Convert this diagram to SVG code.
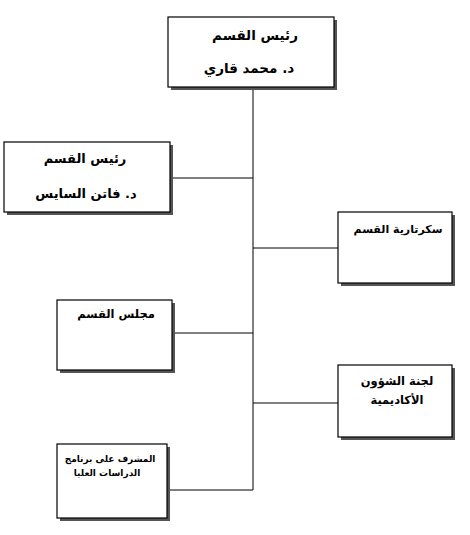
<svg xmlns="http://www.w3.org/2000/svg" width="470" height="535" viewBox="0 0 470 535">
<style>
.box{fill:#fff;stroke:#000;stroke-width:1.2}
.sh{fill:#555}
.t{font-family:"DejaVu Sans","Noto Sans",sans-serif;font-weight:bold;text-anchor:middle;fill:#000;direction:rtl}
.c{stroke:#000;stroke-width:1;fill:none}
</style>
<rect width="470" height="535" fill="#fff"/>
<g id="connectors">
<line class="c" x1="253" y1="88" x2="253" y2="490"/>
<line class="c" x1="170" y1="178" x2="253" y2="178"/>
<line class="c" x1="253" y1="248" x2="338" y2="248"/>
<line class="c" x1="172" y1="333" x2="253" y2="333"/>
<line class="c" x1="253" y1="403" x2="338" y2="403"/>
<line class="c" x1="167" y1="490" x2="253" y2="490"/>
</g>
<g id="head">
<rect class="sh" x="171" y="20" width="166" height="70"/>
<rect class="box" x="168" y="17" width="166" height="70"/>
<text class="t" x="255" y="40" font-size="13.5">رئيس القسم</text>
<text class="t" x="249" y="73" font-size="13.5">د. محمد قاري</text>
</g>
<g id="deputy">
<rect class="sh" x="7" y="145" width="166" height="70"/>
<rect class="box" x="4" y="142" width="166" height="70"/>
<text class="t" x="85" y="163" font-size="13">رئيس القسم</text>
<text class="t" x="86" y="198" font-size="13">د. فاتن السايس</text>
</g>
<g id="secretary">
<rect class="sh" x="341" y="215" width="114" height="71"/>
<rect class="box" x="338" y="212" width="114" height="71"/>
<text class="t" x="398" y="233" font-size="11">سكرتارية القسم</text>
</g>
<g id="council">
<rect class="sh" x="60" y="303" width="115" height="70"/>
<rect class="box" x="57" y="300" width="115" height="70"/>
<text class="t" x="116" y="318" font-size="11.5">مجلس القسم</text>
</g>
<g id="academic">
<rect class="sh" x="341" y="368" width="114" height="72"/>
<rect class="box" x="338" y="365" width="114" height="72"/>
<text class="t" x="397" y="385" font-size="11.5">لجنة الشؤون</text>
<text class="t" x="397" y="404" font-size="11.5">الأكاديمية</text>
</g>
<g id="graduate">
<rect class="sh" x="60" y="447" width="110" height="74"/>
<rect class="box" x="57" y="444" width="110" height="74"/>
<text class="t" x="110" y="462" font-size="9">المشرف على برنامج</text>
<text class="t" x="107" y="476" font-size="9">الدراسات العليا</text>
</g>
</svg>
